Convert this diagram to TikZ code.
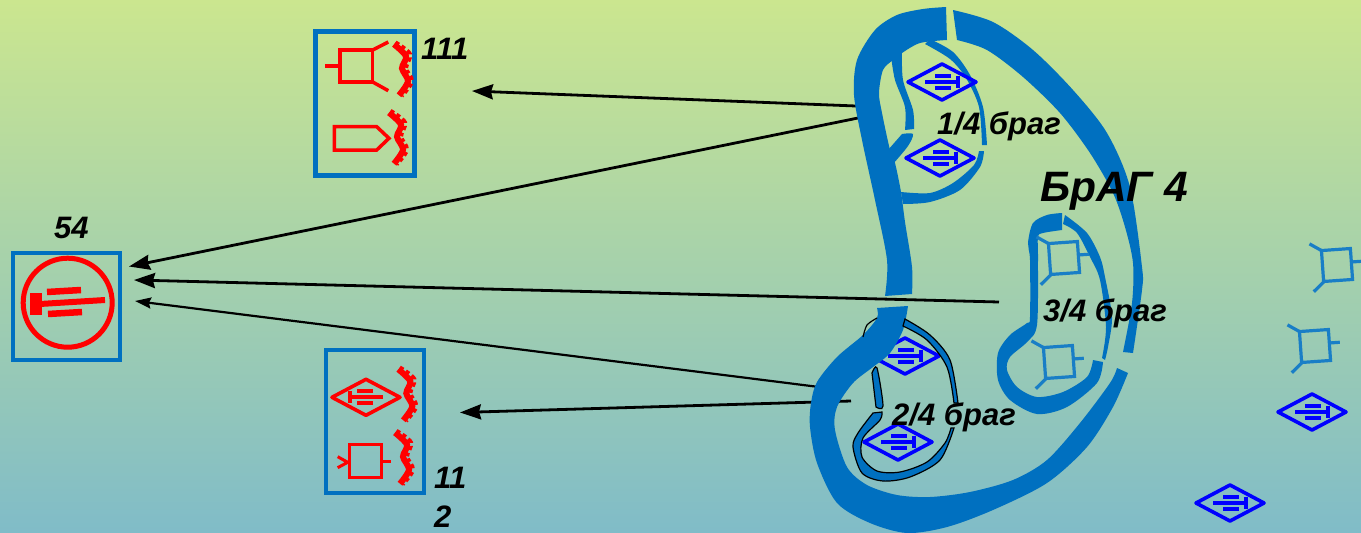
\documentclass[tikz,border=0pt]{standalone}
\usepackage{fontspec}
\setmainfont{Liberation Sans}
\usetikzlibrary{arrows.meta,positioning}
\definecolor{bandblue}{HTML}{0070C0}
\definecolor{bgtop}{HTML}{CBE68F}
\definecolor{bgbottom}{HTML}{80BCC8}
\tikzset{
  band/.style={fill=bandblue},
  stripe/.style={fill=bandblue,draw=black,line width=1.2pt},
  unitbox/.style={draw=bandblue,rectangle,inner sep=0pt},
  lbl/.style={font=\fontsize{31}{39}\selectfont\bfseries\itshape,inner sep=0pt,align=left},
  diamsym/.pic={
    \draw[pic actions,line width=3.6pt,line join=round] (-34,0) -- (0,-18) -- (34,0) -- (0,18) -- cycle;
    \draw[pic actions,line width=3.8pt] (-17,0) -- (16,0);
    \draw[pic actions,line width=3.6pt] (16,-6) -- (16,6);
    \draw[pic actions,line width=3.8pt] (-7,-6) -- (9,-6);
    \draw[pic actions,line width=3.8pt] (-7,6) -- (9,6);
  },
  tubesym/.pic={
    \draw[bandblue!90!white,line width=3.2pt] (-14.5,-15.5) rectangle (14.5,15.5);
    \draw[bandblue!90!white,line width=3.2pt] (14.5,-2) -- (25,-2);
    \draw[bandblue!90!white,line width=3.2pt] (-14.5,-15.5) -- (-26,-23);
    \draw[bandblue!90!white,line width=3.2pt] (-14,15.5) -- (-25,25);
  },
  teeth/.pic={
    \draw[red,line width=6pt] plot[smooth] coordinates {(-1,1) (11,13) (7,25) (13,38) (4,52)};
    \draw[red,line width=6pt,dash pattern=on 4pt off 3pt] plot[smooth] coordinates {(0,0) (14,11) (10,25) (16,38) (6,52)};
  }
}
\begin{document}
\begin{tikzpicture}[x=1pt,y=-1pt,>={Stealth[length=21pt,width=15pt,inset=2pt]}]

  \useasboundingbox (0,0) rectangle (1361,533);
  \shade[top color=bgtop,bottom color=bgbottom] (0,0) rectangle (1361,533);

  % free ends of the arrows
  \coordinate (s111) at (856,106);
  \coordinate (t111) at (472,91);
  \coordinate (sa) at (858,118);
  \coordinate (ta) at (129,266.5);
  \coordinate (sb) at (999,302);
  \coordinate (tb) at (134,280);
  \coordinate (sc) at (819,387);
  \coordinate (tc) at (135,301);
  \coordinate (s112) at (851,401);
  \coordinate (t112) at (460,412.5);

  \draw[->,line width=2.8pt] (s111) -- (t111);
  \draw[->,line width=2.8pt] (sa) -- (ta);
  \draw[->,line width=2.8pt] (sb) -- (tb);
  \draw[-{Stealth[length=16pt,width=11pt,inset=2pt]},line width=2.2pt] (sc) -- (tc);
  \draw[->,line width=2.8pt] (s112) -- (t112);

  \pic[draw=blue] at (905,356) {diamsym};

  % large bands
  \fill[band] plot[smooth] coordinates {(946,7) (923,9) (897,15) (875,30) (857,60) (854,95) (862,140) (875,200) (887,260) (885,296)}
    -- plot[smooth] coordinates {(912,294) (912,267) (905,222) (901,192) (895,163) (890,150) (882,113) (879,93) (883,70) (893,60) (902,53) (920,43) (947,40)} -- cycle;
  \fill[band] plot[smooth] coordinates {(953,10) (993,22) (1033,50) (1073,90) (1107,133) (1130,187) (1142,267) (1142,290) (1133,353)}
    -- plot[smooth] coordinates {(1123,352) (1132,303) (1133,263) (1125,227) (1113,193) (1090,153) (1060,113) (1023,77) (987,50) (957,40)} -- cycle;
  \fill[band] plot[smooth] coordinates {(877,308) (877,318) (863,335) (837,357) (817,382) (811,403) (810,427) (817,463) (837,503) (870,523) (907,533) (947,527) (993,510) (1047,483) (1087,447) (1113,407) (1128,373)}
    -- plot[smooth] coordinates {(1117,368) (1110,383) (1080,423) (1047,460) (1013,480) (970,492) (930,497) (897,495) (867,485) (847,467) (835,430) (837,407) (853,383) (873,367) (890,353) (903,330) (908,306)} -- cycle;

  % 1/4
  \fill[band] plot[smooth] coordinates {(891,56) (895,80) (905,107) (905,130)}
    -- plot[smooth] coordinates {(914,129) (913,110) (903,80) (902,52)} -- cycle;
  \fill[band] (888,150) -- plot[smooth] coordinates {(902,134) (913,134) (908,146) (893,164)} -- cycle;
  \fill[band] plot[smooth] coordinates {(930,39) (953,52) (970,75) (983,107) (987,145)}
    -- plot[smooth] coordinates {(982,145) (979,107) (966,78) (950,59) (925,44)} -- cycle;
  \fill[band] plot[smooth] coordinates {(984,151) (980,167) (960,190) (930,202) (903,204)}
    -- plot[smooth] coordinates {(901,192) (930,193) (953,183) (974,165) (979,151)} -- cycle;

  % 3/4
  \fill[band] plot[smooth] coordinates {(1062,213) (1047,215) (1033,223) (1028,243) (1030,260) (1030,317) (1027,323) (1010,335) (998,353) (998,380) (1010,400) (1037,414) (1067,407) (1097,383) (1103,362)}
    -- plot[smooth] coordinates {(1093,360) (1087,377) (1063,392) (1037,397) (1017,387) (1007,370) (1010,357) (1027,342) (1037,325) (1038,260) (1038,237) (1043,233) (1062,230)} -- cycle;
  \fill[band] plot[smooth] coordinates {(1065,215) (1087,233) (1100,257) (1105,277) (1112,317) (1108,347) (1105,360)}
    -- plot[smooth] coordinates {(1102,358) (1106,327) (1100,280) (1090,257) (1077,233) (1063,224)} -- cycle;

  % 2/4
  \filldraw[stripe] plot[smooth] coordinates {(905,319) (930,335) (950,360) (958,403)}
    -- plot[smooth] coordinates {(954,403) (947,367) (927,340) (903,326)} -- cycle;
  \filldraw[stripe] plot[smooth] coordinates {(872,373) (877,368) (883,406) (876,407)} -- cycle;
  \filldraw[stripe] plot[smooth] coordinates {(954,428) (940,460) (910,477) (883,481) (862,473) (853,447) (858,433) (873,413)}
    -- plot[smooth] coordinates {(882,412) (880,420) (863,438) (862,457) (877,471) (900,472) (927,462) (945,443) (951,428)} -- cycle;
  \draw[black,line width=1.2pt] plot[smooth] coordinates {(863,337) (867,325) (877,318)};

  % right side symbols
  \pic[draw=blue] at (942,82) {diamsym};
  \pic[draw=blue] at (940,158) {diamsym};
  \pic[draw=blue] at (898,442) {diamsym};
  \pic[draw=blue] at (1312,412) {diamsym};
  \pic[draw=blue] at (1230,503) {diamsym};
  \pic[rotate=4] at (1337,265) {tubesym};
  \pic[rotate=4] at (1315,346) {tubesym};
  \pic[rotate=4] at (1064,258) {tubesym};
  \pic[rotate=4] at (1059,362) {tubesym};

  % boxes
  \node[unitbox,line width=5pt,minimum width=99pt,minimum height=143.7pt] (box111) at (365,103.7) {};
  \node[unitbox,line width=4pt,minimum width=107pt,minimum height=107pt] (box54) at (66.5,306) {};
  \node[unitbox,line width=4pt,minimum width=97.7pt,minimum height=143pt] (box112) at (375.2,421.8) {};

  % 111
  \draw[red,line width=3.5pt] (340,50) rectangle (372.7,82);
  \draw[red,line width=3.5pt] (325,66) -- (340,66);
  \draw[red,line width=3.5pt] (372.7,50) -- (388.3,42);
  \draw[red,line width=3.5pt] (372.7,82) -- (388.3,90.7);
  \pic at (395,43.3) {teeth};
  \draw[red,line width=3.5pt] (334.3,126.7) -- (376.7,126.7) -- (389,138.3) -- (376.7,150) -- (334.3,150) -- cycle;
  \pic at (390,111.7) {teeth};

  % 54
  \draw[red,line width=5pt] (67.7,302.7) circle (44.5);
  \draw[red,line width=6pt] (40,304) -- (105,300);
  \fill[red] (30,293.3) rectangle (41.7,315);
  \draw[red,line width=6.5pt] (47,292) -- (81,290);
  \draw[red,line width=6.5pt] (48,314) -- (82,312);

  % 112
  \pic[draw=red,xscale=-1] at (366,397.3) {diamsym};
  \pic at (399.3,368.3) {teeth};
  \draw[red,line width=3pt] (349,444.3) rectangle (381.7,477.7);
  \draw[red,line width=3pt] (381.7,461.7) -- (391,461.7);
  \draw[red,line width=3pt] (337.7,456.7) -- (347.7,462.3) -- (337.7,467.7);
  \pic at (396,431.7) {teeth};

  % labels
  \node[lbl,anchor=base west] (lbl111) at (421,59) {111};
  \node[lbl,anchor=base west] (lbl54) at (54,238) {54};
  \node[lbl,anchor=west] (lbl112) at (434,497) {11\\2};
  \node[lbl,anchor=base west] (lblq1) at (937,134) {1/4 браг};
  \node[lbl,anchor=base west] (lblq2) at (892,425) {2/4 браг};
  \node[lbl,anchor=base west] (lblq3) at (1043,321) {3/4 браг};
  \node[lbl,anchor=base west,font=\fontsize{42.5}{44}\selectfont\bfseries\itshape] (lblbrag) at (1040,201) {БрАГ 4};

\end{tikzpicture}
\end{document}
